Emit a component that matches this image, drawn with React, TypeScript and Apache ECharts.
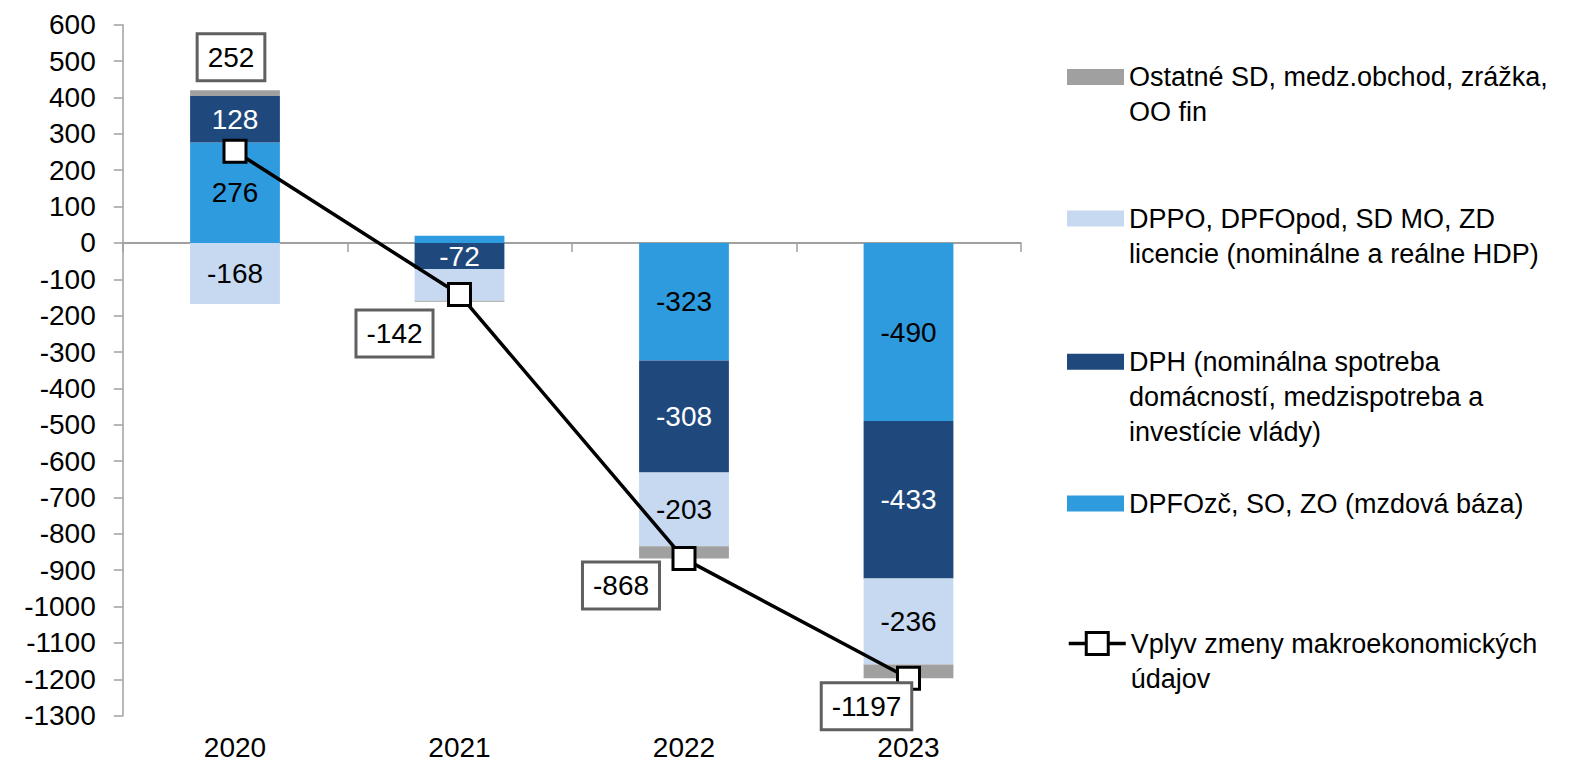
import React, { useEffect, useRef } from "react";
import * as echarts from "echarts";

const categories = ["2020", "2021", "2022", "2023"];
const dpfozc = [276, 20, -323, -490];
const dph = [128, -72, -308, -433];
const dppo = [-168, -87, -203, -236];
const ostatne = [16, -3, -34, -38];
const vplyv = [252, -142, -868, -1197];

const hiddenDpfozc = [1];
const hiddenDppo = [1];

const lineLabelOffsets = [
  [-4, -94],
  [-65, 39],
  [-63, 27],
  [-42, 28],
];

const NAME_OST = "Ostatné SD, medz.obchod, zrážka, OO fin";
const NAME_DPPO = "DPPO, DPFOpod, SD MO, ZD licencie (nominálne a reálne HDP)";
const NAME_DPH = "DPH (nominálna spotreba domácností, medzispotreba a investície vlády)";
const NAME_DPFO = "DPFOzč, SO, ZO (mzdová báza)";
const NAME_VPLYV = "Vplyv zmeny makroekonomických údajov";

const FONT = "'Liberation Sans', Arial, Helvetica, sans-serif";
const LH = 35;

function legendFor(
  name: string,
  text: string,
  lines: number,
  iconCenter: number,
  itemHeight: number,
  icon?: string
) {
  // leading blank lines so the first text line aligns with the icon
  const pre = "\n".repeat(lines - 1);
  const total = lines * 2 - 1;
  const l: any = {
    data: [name],
    left: 1067,
    top: iconCenter - (total * LH) / 2,
    padding: 0,
    orient: "vertical",
    itemWidth: 57,
    itemHeight,
    itemGap: 0,
    selectedMode: false,
    formatter: () => pre + text,
    textStyle: {
      fontFamily: FONT,
      fontSize: 27,
      color: "#000",
      lineHeight: LH,
    },
  };
  if (icon) l.icon = icon;
  return l;
}

export default function App() {
  const ref = useRef<HTMLDivElement>(null);

  useEffect(() => {
    if (!ref.current) return;
    const chart = echarts.init(ref.current, null, { renderer: "svg" });

    const barLabel = (color: string) => ({
      show: true,
      position: "inside",
      color,
      fontSize: 28,
      fontFamily: FONT,
    });

    const lineLegend = legendFor(NAME_VPLYV, "Vplyv zmeny makroekonomických\núdajov", 2, 643.5, 27.5);
    lineLegend.lineStyle = { color: "#000", width: 3.5 };
    lineLegend.itemStyle = { color: "#fff", borderColor: "#000", borderWidth: 3 };

    const option: any = {
      animation: false,
      backgroundColor: "#fff",
      textStyle: { fontFamily: FONT },
      grid: {
        left: 122.75,
        right: 562.25,
        top: 24.7,
        bottom: 50.3,
        containLabel: false,
        outerBoundsMode: "none",
      },
      legend: [
        legendFor(NAME_OST, "Ostatné SD, medz.obchod, zrážka,\nOO fin", 2, 77, 16, "rect"),
        legendFor(NAME_DPPO, "DPPO, DPFOpod, SD MO, ZD\nlicencie (nominálne a reálne HDP)", 2, 218.5, 16, "rect"),
        legendFor(NAME_DPH, "DPH (nominálna spotreba\ndomácností, medzispotreba a\ninvestície vlády)", 3, 361.7, 16, "rect"),
        legendFor(NAME_DPFO, "DPFOzč, SO, ZO (mzdová báza)", 1, 503.5, 16, "rect"),
        lineLegend,
      ],
      xAxis: [
        {
          type: "category",
          data: categories,
          position: "bottom",
          axisLine: { show: true, onZero: true, lineStyle: { color: "#a0a0a0", width: 2 } },
          axisTick: { show: true, alignWithLabel: false, length: 9, lineStyle: { color: "#a0a0a0", width: 1.5 } },
          axisLabel: { show: false },
          splitLine: { show: false },
        },
        {
          type: "category",
          data: categories,
          position: "bottom",
          axisLine: { show: false, onZero: false },
          axisTick: { show: false },
          axisLabel: {
            show: true,
            margin: 18,
            fontSize: 28,
            lineHeight: 28,
            color: "#000",
            fontFamily: FONT,
          },
          splitLine: { show: false },
        },
      ],
      yAxis: {
        type: "value",
        min: -1300,
        max: 600,
        interval: 100,
        axisLine: { show: true, lineStyle: { color: "#a0a0a0", width: 1.5 } },
        axisTick: { show: true, length: 9, lineStyle: { color: "#a0a0a0", width: 1.5 } },
        axisLabel: {
          show: true,
          margin: 27,
          fontSize: 28,
          color: "#000",
          fontFamily: FONT,
          formatter: (v: number) => String(v),
        },
        splitLine: { show: false },
      },
      series: [
        {
          name: NAME_DPFO,
          type: "bar",
          stack: "s",
          barWidth: "40%",
          itemStyle: { color: "#2e9bde" },
          label: barLabel("#000"),
          data: dpfozc.map((v, i) =>
            hiddenDpfozc.includes(i) ? { value: v, label: { show: false } } : v
          ),
        },
        {
          name: NAME_DPH,
          type: "bar",
          stack: "s",
          barWidth: "40%",
          itemStyle: { color: "#1f497d" },
          label: barLabel("#fff"),
          data: dph,
        },
        {
          name: NAME_DPPO,
          type: "bar",
          stack: "s",
          barWidth: "40%",
          itemStyle: { color: "#c6d9f1" },
          label: barLabel("#000"),
          data: dppo.map((v, i) =>
            hiddenDppo.includes(i) ? { value: v, label: { show: false } } : v
          ),
        },
        {
          name: NAME_OST,
          type: "bar",
          stack: "s",
          barWidth: "40%",
          itemStyle: { color: "#a0a0a0" },
          label: { show: false },
          data: ostatne,
        },
        {
          name: NAME_VPLYV,
          type: "line",
          z: 5,
          symbol: "rect",
          symbolSize: 22,
          lineStyle: { color: "#000", width: 3.5 },
          itemStyle: { color: "#fff", borderColor: "#000", borderWidth: 3 },
          label: {
            show: true,
            position: "inside",
            formatter: "{c}",
            fontSize: 28,
            fontFamily: FONT,
            color: "#000",
            backgroundColor: "#fff",
            borderColor: "#606060",
            borderWidth: 3,
            padding: [8, 9],
          },
          data: vplyv.map((v, i) => ({ value: v, label: { offset: lineLabelOffsets[i] } })),
        },
      ],
    };

    chart.setOption(option);
    return () => chart.dispose();
  }, []);

  return (
    <div
      ref={ref}
      style={{ position: "fixed", left: 0, top: 0, width: 1583, height: 766 }}
    />
  );
}
